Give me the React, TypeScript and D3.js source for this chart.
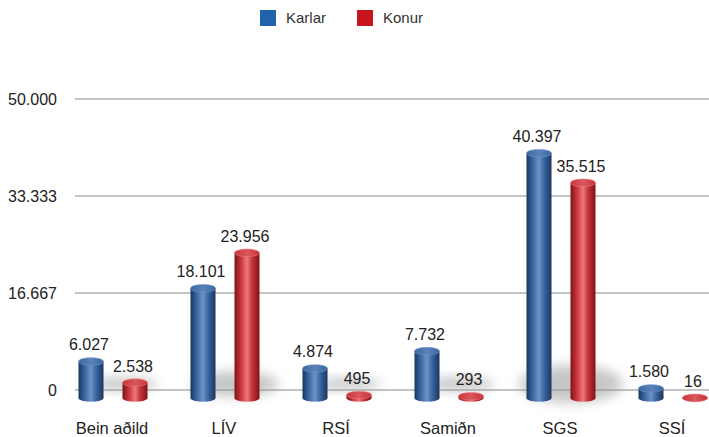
import * as d3 from 'd3'
import * as React from 'react'

//------------------------------data------------------------------
const categories = ['Bein aðild', 'LÍV', 'RSÍ', 'Samiðn', 'SGS', 'SSÍ']
const karlar = [6027, 18101, 4874, 7732, 40397, 1580]
const konur = [2538, 23956, 495, 293, 35515, 16]
const yTicks = [0, 16667, 33333, 50000]
const seriesNames = ['Karlar', 'Konur']

const WIDTH = 709
const HEIGHT = 437
const FONT = '"Liberation Sans", Arial, Helvetica, sans-serif'

const fmt = (v: number) => d3.format(',')(v).replace(/,/g, '.')
const tickFmt = (v: number) => (v === 0 ? '0' : d3.format(',.3f')(v / 1000).replace(/,/g, ''))

const palette = [
  { legend: '#2262aa', dark: '#1b355e', mid: '#3a67a3', light: '#6c93c8', cap: '#5b82b9' },
  { legend: '#c8141c', dark: '#7e1418', mid: '#c8333a', light: '#ec7a7e', cap: '#d9585d' }
]

//------------------------------Component------------------------------
const App: React.FunctionComponent = () => {
  const x = d3.scaleBand<string>().domain(categories).range([57, 729])
  // back plane (gridlines) and front plane (bars)
  const yGrid = d3.scaleLinear().domain([0, 50000]).range([390, 99])
  const yBar = d3.scaleLinear().domain([0, 50000]).range([398, 95])
  const barW = 25
  const offsets = [-22, 22]
  const rx = barW / 2
  const ry = 3.8

  const series = [karlar, konur]

  return (
    <svg width={WIDTH} height={HEIGHT} style={{ position: 'absolute', left: 0, top: 0, background: '#fff' }}>
      <defs>
        {palette.map((p, i) => (
          <React.Fragment key={i}>
            <linearGradient id={`body${i}`} x1="0" x2="1" y1="0" y2="0">
              <stop offset="0" stopColor={p.dark} />
              <stop offset="0.25" stopColor={p.mid} />
              <stop offset="0.5" stopColor={p.light} />
              <stop offset="0.7" stopColor={p.mid} />
              <stop offset="1" stopColor={p.dark} />
            </linearGradient>
            <linearGradient id={`cap${i}`} x1="0" x2="1" y1="0" y2="0">
              <stop offset="0" stopColor={p.mid} />
              <stop offset="0.5" stopColor={p.cap} />
              <stop offset="1" stopColor={p.mid} />
            </linearGradient>
          </React.Fragment>
        ))}
        <filter id="blur" x="-50%" y="-50%" width="200%" height="200%">
          <feGaussianBlur stdDeviation="6" />
        </filter>
        <filter id="lineShadow" x="-5%" y="-200%" width="110%" height="500%">
          <feGaussianBlur stdDeviation="0.8" />
        </filter>
      </defs>

      {/* legend */}
      {seriesNames.map((name, i) => (
        <g key={name} transform={`translate(${260 + i * 97},10)`}>
          <rect width={16} height={16} fill={palette[i].legend} />
          <text x={26} y={8} dy="0.36em" fontFamily={FONT} fontSize={15} fill="#333">
            {name}
          </text>
        </g>
      ))}

      {/* gridlines */}
      {yTicks.map(t => (
        <g key={t}>
          <line x1={75} x2={WIDTH} y1={yGrid(t) + 1.5} y2={yGrid(t) + 1.5} stroke="#e4e4e4" strokeWidth={2} filter="url(#lineShadow)" />
          <line x1={75} x2={WIDTH} y1={yGrid(t)} y2={yGrid(t)} stroke="#c4c4c4" strokeWidth={2} />
          <text x={57} y={yGrid(t)} dy="0.36em" textAnchor="end" fontFamily={FONT} fontSize={16} fill="#222">
            {tickFmt(t)}
          </text>
        </g>
      ))}

      {/* shadows */}
      {categories.map((c, ci) => {
        const h = Math.max(karlar[ci], konur[ci])
        const hh = yBar(0) - yBar(h)
        const cx = (x(c) ?? 0) + x.bandwidth() / 2
        if (hh < 20) return null
        return (
          <ellipse
            key={c}
            cx={cx + 10}
            cy={yGrid(0) - 6}
            rx={32 + hh * 0.08}
            ry={4 + hh * 0.06}
            fill="#8f8f8f"
            opacity={0.5}
            filter="url(#blur)"
          />
        )
      })}

      {/* bars */}
      {categories.map((c, ci) =>
        series.map((s, si) => {
          const v = s[ci]
          const cx = (x(c) ?? 0) + x.bandwidth() / 2 + offsets[si]
          const y0 = yBar(0)
          const y1 = yBar(v)
          return (
            <g key={`${c}-${si}`}>
              <rect x={cx - rx} y={y1} width={barW} height={y0 - y1} fill={`url(#body${si})`} />
              <ellipse cx={cx} cy={y0} rx={rx} ry={ry} fill={`url(#body${si})`} />
              <ellipse cx={cx} cy={y1} rx={rx} ry={ry} fill={`url(#cap${si})`} stroke={palette[si].light} strokeWidth={0.6} />
              <text x={cx - 2} y={y1 - 11} textAnchor="middle" fontFamily={FONT} fontSize={16} fill="#222">
                {fmt(v)}
              </text>
            </g>
          )
        })
      )}

      {/* category labels */}
      {categories.map(c => (
        <text
          key={c}
          x={(x(c) ?? 0) + x.bandwidth() / 2 - 1}
          y={428}
          dy="0.36em"
          textAnchor="middle"
          fontFamily={FONT}
          fontSize={16.5}
          fill="#222"
        >
          {c}
        </text>
      ))}
    </svg>
  )
}

export default App
